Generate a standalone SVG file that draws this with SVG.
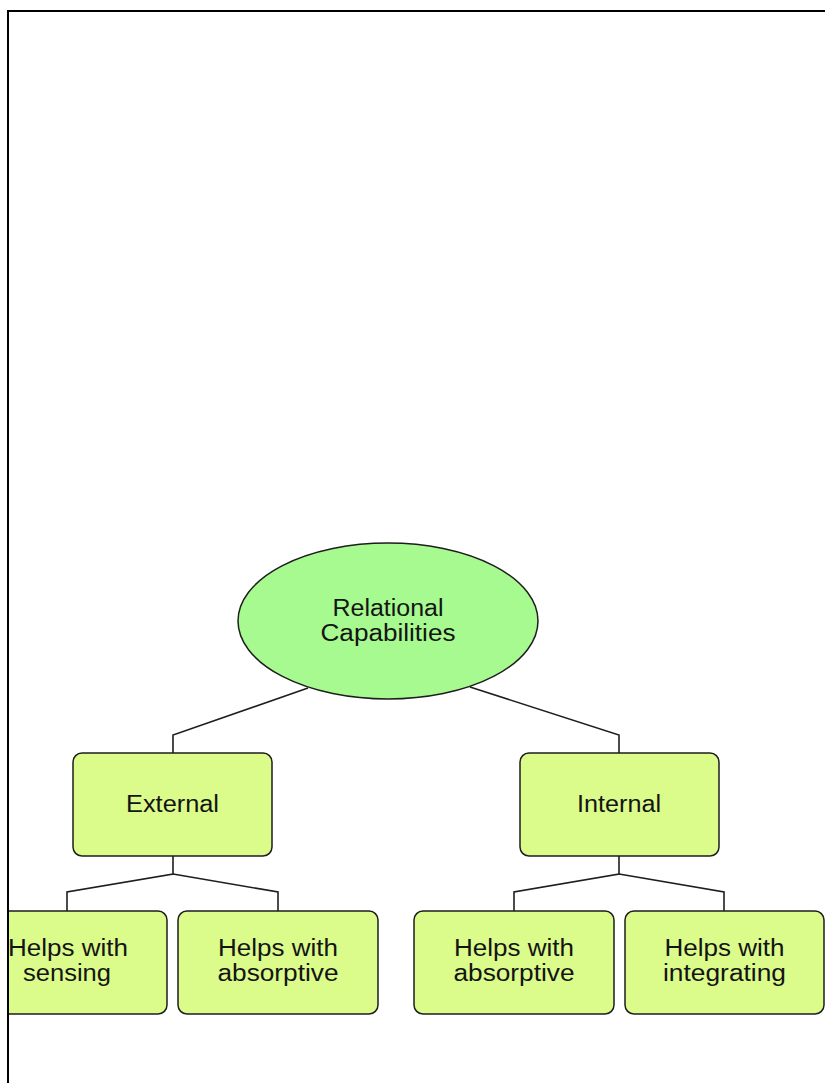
<svg xmlns="http://www.w3.org/2000/svg" width="825" height="1083" viewBox="0 0 825 1083">
  <style>
    .oval { fill: #a6fa8f; stroke: #1e1e1e; stroke-width: 1.5; }
    .box { fill: #dbfb8b; stroke: #1e1e1e; stroke-width: 1.5; }
    .link { fill: none; stroke: #1e1e1e; stroke-width: 1.6; stroke-linejoin: miter; }
    .lbl { font-family: "Liberation Sans", Arial, sans-serif; font-size: 23px; fill: #141414; text-anchor: middle; }
    .frame { fill: none; stroke: #000; stroke-width: 2; }
  </style>
  <defs>
    <clipPath id="page">
      <rect x="9" y="12" width="816" height="1071"/>
    </clipPath>
  </defs>
  <rect width="825" height="1083" fill="#fff"/>

  <g clip-path="url(#page)">
    <g id="connectors">
      <polyline class="link" points="308,688 173,735 173,753"/>
      <polyline class="link" points="470,687 619,735 619,753"/>
      <polyline class="link" points="173,856 173,874 67,892 67,911"/>
      <polyline class="link" points="173,874 278,892 278,911"/>
      <polyline class="link" points="619,856 619,874 514,892 514,911"/>
      <polyline class="link" points="619,874 724,892 724,911"/>
    </g>

    <g id="relational-capabilities">
      <ellipse class="oval" cx="388" cy="621" rx="150" ry="78"/>
      <text class="lbl" x="388" y="616" textLength="111" lengthAdjust="spacingAndGlyphs">Relational</text>
      <text class="lbl" x="388" y="641" textLength="135" lengthAdjust="spacingAndGlyphs">Capabilities</text>
    </g>

    <g id="external">
      <rect class="box" x="73" y="753" width="199" height="103" rx="9"/>
      <text class="lbl" x="172.5" y="812" textLength="93" lengthAdjust="spacingAndGlyphs">External</text>
    </g>

    <g id="internal">
      <rect class="box" x="520" y="753" width="199" height="103" rx="9"/>
      <text class="lbl" x="619" y="812" textLength="84" lengthAdjust="spacingAndGlyphs">Internal</text>
    </g>

    <g id="ext-sensing">
      <rect class="box" x="-32" y="911" width="199" height="103" rx="9"/>
      <text class="lbl" x="68" y="956" textLength="120" lengthAdjust="spacingAndGlyphs">Helps with</text>
      <text class="lbl" x="67" y="981" textLength="88" lengthAdjust="spacingAndGlyphs">sensing</text>
    </g>

    <g id="ext-absorptive">
      <rect class="box" x="178" y="911" width="200" height="103" rx="9"/>
      <text class="lbl" x="278" y="956" textLength="120" lengthAdjust="spacingAndGlyphs">Helps with</text>
      <text class="lbl" x="278" y="981" textLength="121" lengthAdjust="spacingAndGlyphs">absorptive</text>
    </g>

    <g id="int-absorptive">
      <rect class="box" x="414" y="911" width="200" height="103" rx="9"/>
      <text class="lbl" x="514" y="956" textLength="120" lengthAdjust="spacingAndGlyphs">Helps with</text>
      <text class="lbl" x="514" y="981" textLength="121" lengthAdjust="spacingAndGlyphs">absorptive</text>
    </g>

    <g id="int-integrating">
      <rect class="box" x="625" y="911" width="199" height="103" rx="9"/>
      <text class="lbl" x="724.5" y="956" textLength="120" lengthAdjust="spacingAndGlyphs">Helps with</text>
      <text class="lbl" x="724.5" y="981" textLength="123" lengthAdjust="spacingAndGlyphs">integrating</text>
    </g>
  </g>

  <!-- page border: top and left edges only -->
  <polyline class="frame" points="825,11 8,11 8,1083"/>
</svg>
